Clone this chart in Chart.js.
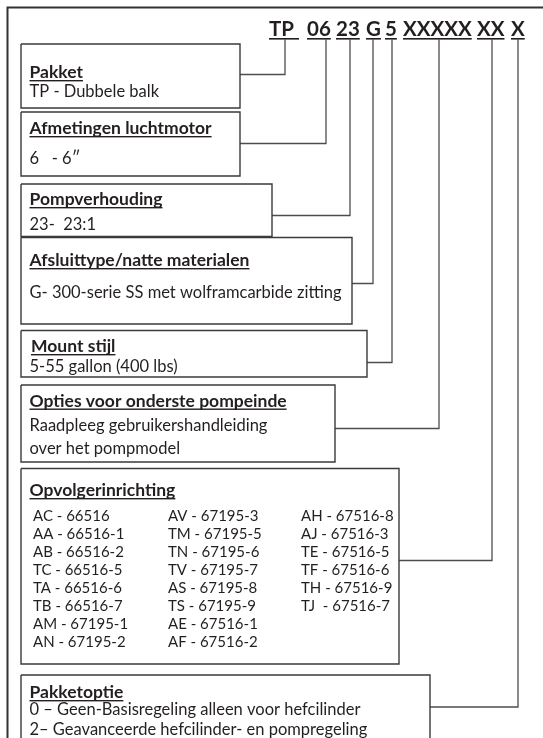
<!DOCTYPE html>
<html>
<head>
<meta charset="utf-8">
<script src="https://cdn.jsdelivr.net/npm/chart.js@4.4.1/dist/chart.umd.min.js"></script>
<style>
  html, body { margin: 0; padding: 0; background: #fff; }
  #wrap { width: 543px; height: 738px; }
</style>
</head>
<body>
<div id="wrap"><canvas id="diagram"></canvas></div>
<script>
  // ---- content ----
  const codeParts = ['TP', '06', '23', 'G', '5', 'XXXXX', 'XX', 'X'];
  const boxTitles = [
    'Pakket',
    'Afmetingen luchtmotor',
    'Pompverhouding',
    'Afsluittype/natte materialen',
    'Mount stijl',
    'Opties voor onderste pompeinde',
    'Opvolgerinrichting',
    'Pakketoptie'
  ];
  const boxLines = [
    ['TP - Dubbele balk'],
    ['6   - 6\u2033'],
    ['23-  23:1'],
    ['G- 300-serie SS met wolframcarbide zitting'],
    ['5-55 gallon (400 lbs)'],
    ['Raadpleeg gebruikershandleiding', 'over het pompmodel'],
    [],
    ['0 \u2013 Geen-Basisregeling alleen voor hefcilinder', '2\u2013 Geavanceerde hefcilinder- en pompregeling']
  ];
  const followerCol1 = ['AC - 66516', 'AA - 66516-1', 'AB - 66516-2', 'TC - 66516-5', 'TA - 66516-6', 'TB - 66516-7', 'AM - 67195-1', 'AN - 67195-2'];
  const followerCol2 = ['AV - 67195-3', 'TM - 67195-5', 'TN - 67195-6', 'TV - 67195-7', 'AS - 67195-8', 'TS - 67195-9', 'AE - 67516-1', 'AF - 67516-2'];
  const followerCol3 = ['AH - 67516-8', 'AJ - 67516-3', 'TE - 67516-5', 'TF - 67516-6', 'TH - 67516-9', 'TJ  - 67516-7'];

  // ---- layout (diagram units = px of the 543x738 sheet) ----
  const W = 543, H = 738;
  const codeX = [269, 307, 336, 366, 385, 403, 477, 511];
  const codeBaseY = 36, codeUnderY = 39.5;
  const connectorX = [285, 326, 350, 373, 392, 439, 492, 518];
  const connectorElbowY = [74.5, 143.5, 215.5, 283.5, 362.5, 428.5, 560.5, 707];
  const boxLeft = 21;
  const boxRight = [240, 240, 272, 352, 367, 335, 399, 430];
  const boxTop = [44, 112, 184, 237.5, 330.5, 385, 468.5, 675];
  const boxBottom = [108, 176, 236.5, 324, 377, 462, 664, 760];
  const titleX = [29.5, 29.5, 29.5, 29.5, 31, 29.5, 29.5, 29.5];
  const titleBaseY = [78, 134, 205, 266, 352, 406.5, 496, 698];
  const bodyBaseY = [[97], [164], [229.5], [297.5], [372], [431, 453.5], [], [715, 735]];
  const followerColX = [33, 168, 301];
  const followerRow0 = 521, followerPitch = 18;

  const TEXT = '#231f20';
  const BOX = '#3a3a3a';
  const WIRE = '#4d4d4d';
  const FONT = 'Lato, "Open Sans", sans-serif';

  // ---- datasets ----
  const lineDs = (data, color, width) => ({
    data, showLine: true, borderColor: color, borderWidth: width,
    pointRadius: 0, tension: 0, fill: false, clip: false
  });

  const datasets = [];
  // outer frame
  datasets.push(lineDs([{x: 7.5, y: H + 10}, {x: 7.5, y: 7.5}, {x: W + 10, y: 7.5}], '#333', 2));
  // boxes
  boxTitles.forEach((_, i) => {
    datasets.push(lineDs([
      {x: boxLeft, y: boxTop[i]}, {x: boxRight[i], y: boxTop[i]},
      {x: boxRight[i], y: boxBottom[i]}, {x: boxLeft, y: boxBottom[i]},
      {x: boxLeft, y: boxTop[i]}
    ], BOX, 1.4));
  });
  // connectors: code part -> box
  codeParts.forEach((_, i) => {
    datasets.push(lineDs([
      {x: connectorX[i], y: codeUnderY}, {x: connectorX[i], y: connectorElbowY[i]},
      {x: boxRight[i], y: connectorElbowY[i]}
    ], WIRE, 1.3));
  });

  // ---- text plugin ----
  const diagramText = {
    id: 'diagramText',
    afterDatasetsDraw(chart){
      const {ctx, scales: {x, y}} = chart;
      const px = v => x.getPixelForValue(v);
      const py = v => y.getPixelForValue(v);
      ctx.save();
      ctx.fillStyle = TEXT;
      ctx.textBaseline = 'alphabetic';
      ctx.textAlign = 'left';

      const underline = (x0, x1, yy, t) => {
        ctx.fillRect(px(x0), py(yy), px(x1) - px(x0), t);
      };

      // code header
      ctx.font = `bold 20.5px ${FONT}`;
      codeParts.forEach((p, i) => {
        const w = ctx.measureText(p).width;
        ctx.fillText(p, px(codeX[i]), py(codeBaseY));
        underline(codeX[i], codeX[i] + w + (i === 0 ? 5 : 0), codeBaseY + 2, 1.6);
      });

      // box titles and bodies
      boxTitles.forEach((t, i) => {
        ctx.font = `bold 17.5px ${FONT}`;
        const w = ctx.measureText(t).width;
        ctx.fillText(t, px(titleX[i]), py(titleBaseY[i]));
        underline(titleX[i], titleX[i] + w, titleBaseY[i] + 2, 1.4);
        ctx.font = `16.5px ${FONT}`;
        boxLines[i].forEach((line, j) => {
          ctx.fillText(line, px(29.5), py(bodyBaseY[i][j]));
        });
      });

      // follower table
      ctx.font = `15px ${FONT}`;
      [followerCol1, followerCol2, followerCol3].forEach((col, c) => {
        col.forEach((item, r) => {
          ctx.fillText(item, px(followerColX[c]), py(followerRow0 + r * followerPitch));
        });
      });
      ctx.restore();
    }
  };

  new Chart(document.getElementById('diagram'), {
    type: 'scatter',
    data: { datasets },
    options: {
      responsive: true,
      maintainAspectRatio: false,
      animation: false,
      layout: { padding: 0 },
      events: [],
      scales: {
        x: { type: 'linear', min: 0, max: W, display: false },
        y: { type: 'linear', min: 0, max: H, reverse: true, display: false }
      },
      plugins: { legend: { display: false }, tooltip: { enabled: false } }
    },
    plugins: [diagramText]
  });
</script>
</body>
</html>
